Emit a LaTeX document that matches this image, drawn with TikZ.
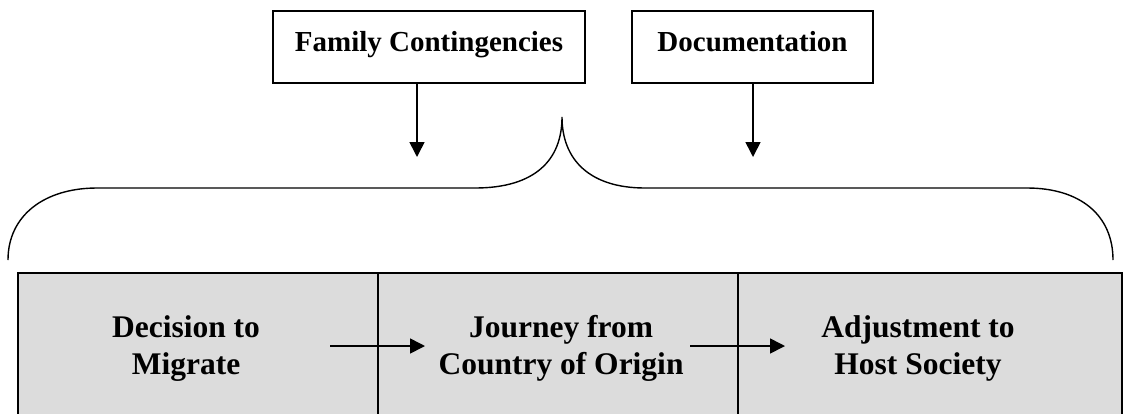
\documentclass[tikz,border=0pt]{standalone}
\usepackage{fontspec}
\setmainfont{Liberation Serif}
\usetikzlibrary{arrows.meta}
\begin{document}
\begin{tikzpicture}[x=1pt,y=-1pt,
  topbox/.style={draw, line width=1.6pt, inner sep=0pt, text height=40pt, text depth=32pt,
    font=\fontsize{29}{34}\selectfont\bfseries},
  stagebox/.style={draw, line width=1.6pt, fill=stagegray, inner sep=0pt, minimum height=150pt},
  stagetext/.style={align=center, inner sep=0pt, anchor=base,
    font=\fontsize{31.5}{37}\selectfont\bfseries},
  arr/.style={line width=1.6pt, -{Triangle[length=15pt,width=15pt]}},
  bracepath/.style={line width=1.4pt}]
\definecolor{stagegray}{HTML}{DCDCDC}
\useasboundingbox (0,0) rectangle (1123,413);
% top boxes
\node[topbox, minimum width=312pt] (fam) at (429,47) {Family Contingencies};
\node[topbox, minimum width=241pt] (doc) at (752.5,47) {Documentation};
\coordinate (famtip) at (417,157);
\coordinate (doctip) at (753,157);
\draw[arr] (fam.south -| famtip) -- (famtip);
\draw[arr] (doc.south -| doctip) -- (doctip);
% brace
\draw[bracepath] (8,260) .. controls (8,215) and (45,188) .. (97,188) -- (475,188)
  .. controls (535,188) and (562,160) .. (562,117)
  .. controls (562,160) and (590,188) .. (645,188) -- (1027,188)
  .. controls (1080,188) and (1113,215) .. (1113,260);
% stages
\node[stagebox, minimum width=360pt] (s1) at (198,348) {};
\node[stagebox, minimum width=360pt] (s2) at (558,348) {};
\node[stagebox, minimum width=384pt] (s3) at (930,348) {};
\node[stagetext] (t1) at (186,374) {Decision to\\Migrate};
\node[stagetext] (t2) at (561,374) {Journey from\\Country of Origin};
\node[stagetext] (t3) at (918,374) {Adjustment to\\Host Society};
\coordinate (a1s) at (330,346);
\coordinate (a1e) at (425,346);
\coordinate (a2s) at (690,346);
\coordinate (a2e) at (785,346);
\draw[arr] (a1s) -- (a1e);
\draw[arr] (a2s) -- (a2e);
\end{tikzpicture}
\end{document}
